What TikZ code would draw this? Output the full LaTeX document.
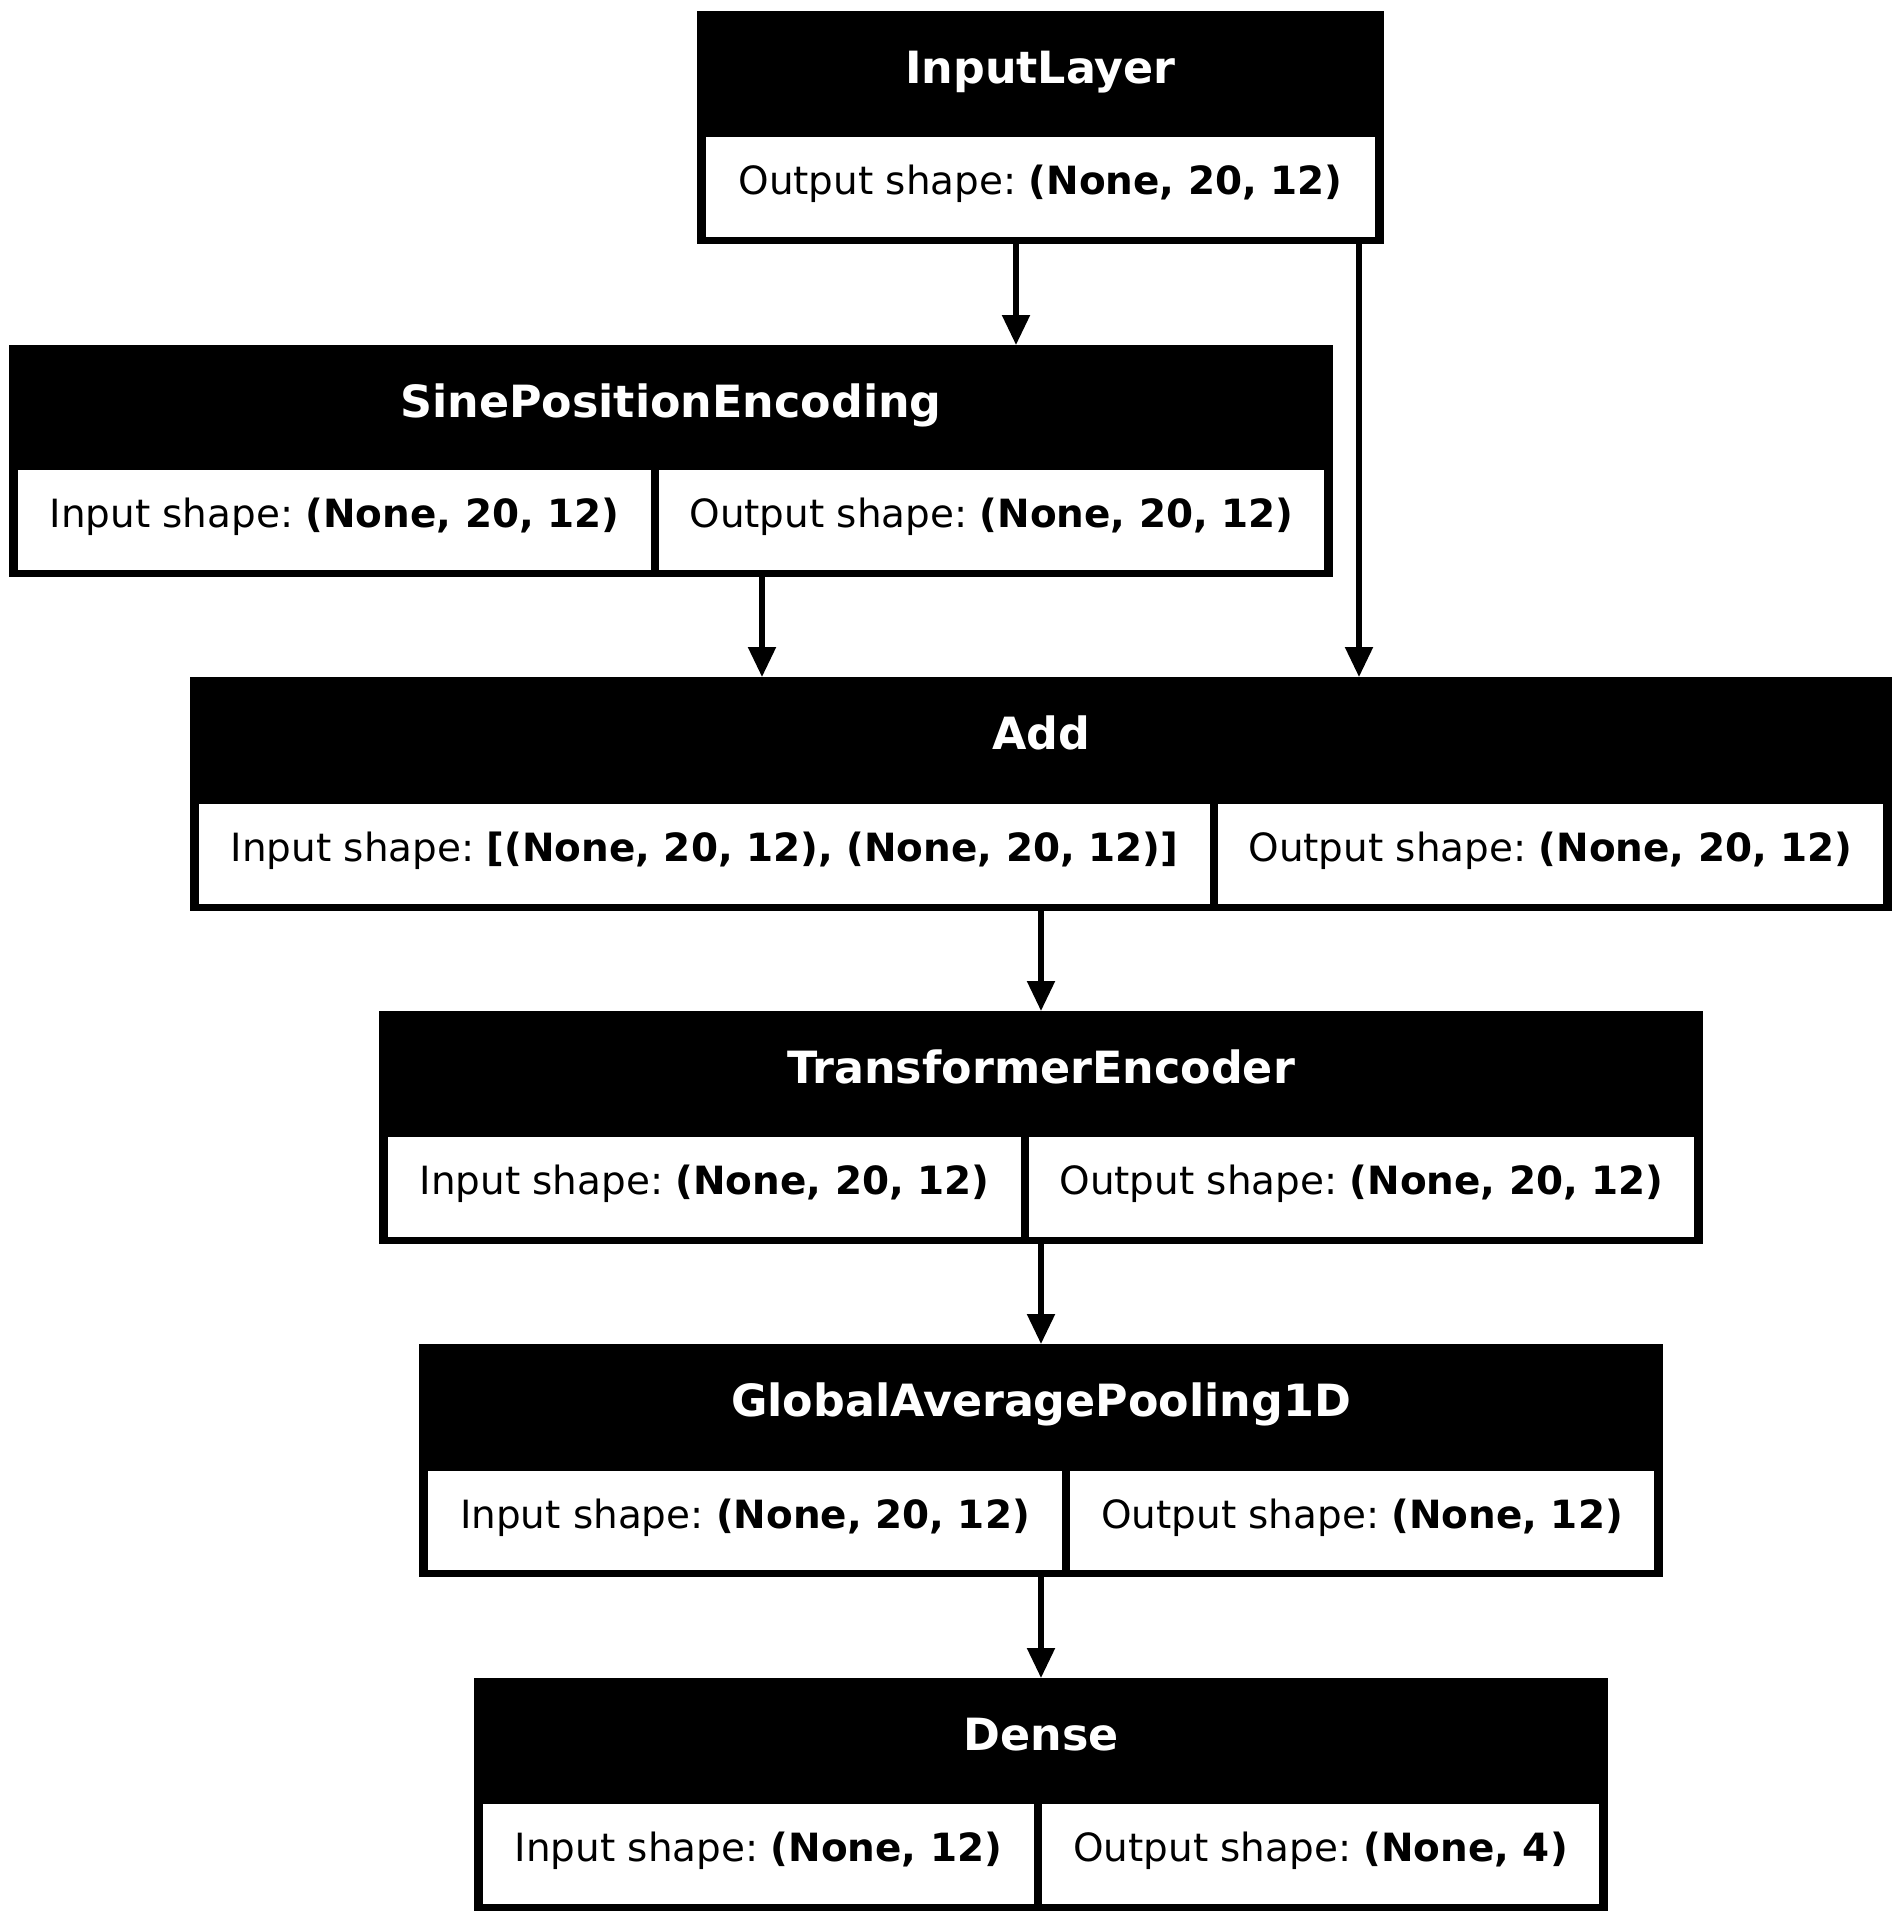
\documentclass[tikz,border=0pt]{standalone}
\usepackage{fontspec}
\setmainfont{DejaVu Sans}
\usetikzlibrary{arrows.meta}
\frenchspacing

\begin{document}
\begin{tikzpicture}[x=1pt,y=-1pt,
  layerbox/.style={rectangle, fill=black, inner sep=0pt, outer sep=0pt},
  cellbox/.style={rectangle, fill=white, inner sep=0pt, outer sep=0pt, minimum height=100pt},
  headtext/.style={anchor=base, inner sep=0pt, text=white,
    font=\fontsize{44.4}{53}\selectfont\bfseries},
  bodytext/.style={anchor=base, inner sep=0pt, text=black,
    font=\fontsize{38.9}{47}\selectfont},
  edge/.style={line width=5.3pt, draw=black,
    -{Triangle[length=30pt,width=27pt]}}
]
\useasboundingbox (0,0) rectangle (1903,1922);

% InputLayer
\node[layerbox, minimum width=687pt, minimum height=233pt] (inp) at (1040.5,127.5) {};
\node[cellbox, minimum width=669pt] (inp-out) at (1040.5,187) {};
\node[headtext] (inp-t) at (1040.5,83) {InputLayer};
\node[bodytext] (inp-o) at (1040.5,194) {Output shape: \textbf{(None, 20, 12)}};

% SinePositionEncoding
\node[layerbox, minimum width=1324pt, minimum height=232pt] (spe) at (671,461) {};
\node[cellbox, minimum width=633pt] (spe-in) at (334.5,520) {};
\node[cellbox, minimum width=665pt] (spe-out) at (991.5,520) {};
\node[headtext] (spe-t) at (671,417) {SinePositionEncoding};
\node[bodytext] (spe-i) at (334.5,527) {Input shape: \textbf{(None, 20, 12)}};
\node[bodytext] (spe-o) at (991.5,527) {Output shape: \textbf{(None, 20, 12)}};

% Add
\node[layerbox, minimum width=1702pt, minimum height=234pt] (add) at (1041,794) {};
\node[cellbox, minimum width=1011pt] (add-in) at (704.5,854) {};
\node[cellbox, minimum width=665pt] (add-out) at (1550.5,854) {};
\node[headtext] (add-t) at (1041,749) {Add};
\node[bodytext] (add-i) at (704.5,861) {Input shape: \textbf{[(None, 20, 12), (None, 20, 12)]}};
\node[bodytext] (add-o) at (1550.5,861) {Output shape: \textbf{(None, 20, 12)}};

% TransformerEncoder
\node[layerbox, minimum width=1324pt, minimum height=233pt] (enc) at (1041,1127.5) {};
\node[cellbox, minimum width=633pt] (enc-in) at (704.5,1187) {};
\node[cellbox, minimum width=665pt] (enc-out) at (1361.5,1187) {};
\node[headtext] (enc-t) at (1041,1083) {TransformerEncoder};
\node[bodytext] (enc-i) at (704.5,1194) {Input shape: \textbf{(None, 20, 12)}};
\node[bodytext] (enc-o) at (1361.5,1194) {Output shape: \textbf{(None, 20, 12)}};

% GlobalAveragePooling1D
\node[layerbox, minimum width=1244pt, minimum height=233pt] (gap) at (1041,1460.5) {};
\node[cellbox, minimum width=634pt, minimum height=99pt] (gap-in) at (745,1520.5) {};
\node[cellbox, minimum width=584pt, minimum height=99pt] (gap-out) at (1362,1520.5) {};
\node[headtext] (gap-t) at (1041,1416) {GlobalAveragePooling1D};
\node[bodytext] (gap-i) at (745,1528) {Input shape: \textbf{(None, 20, 12)}};
\node[bodytext] (gap-o) at (1362,1528) {Output shape: \textbf{(None, 12)}};

% Dense
\node[layerbox, minimum width=1134pt, minimum height=233pt] (dense) at (1041,1794.5) {};
\node[cellbox, minimum width=551pt] (dense-in) at (758.5,1854) {};
\node[cellbox, minimum width=557pt] (dense-out) at (1320.5,1854) {};
\node[headtext] (dense-t) at (1041,1750) {Dense};
\node[bodytext] (dense-i) at (758.5,1861) {Input shape: \textbf{(None, 12)}};
\node[bodytext] (dense-o) at (1320.5,1861) {Output shape: \textbf{(None, 4)}};

% Connections
\draw[edge] ([xshift=-24.5pt]inp.south) -- ([xshift=-24.5pt]inp.south |- spe.north);
\draw[edge] ([xshift=318.5pt]inp.south) -- ([xshift=318.5pt]inp.south |- add.north);
\draw[edge] ([xshift=91pt]spe.south) -- ([xshift=91pt]spe.south |- add.north);
\draw[edge] (add.south) -- (enc.north);
\draw[edge] (enc.south) -- (gap.north);
\draw[edge] (gap.south) -- (dense.north);
\end{tikzpicture}
\end{document}
